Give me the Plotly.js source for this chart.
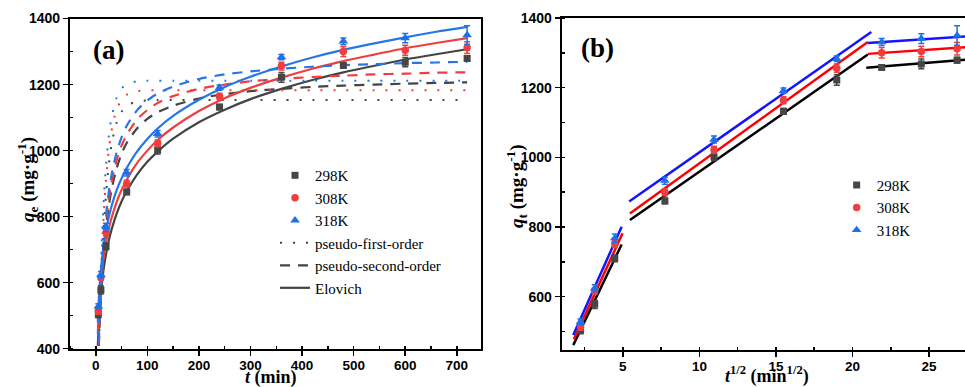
<!DOCTYPE html>
<html>
<head>
<meta charset="utf-8">
<script src="https://cdn.plot.ly/plotly-3.0.1.min.js"></script>
<style>html,body{margin:0;padding:0;background:#fff;}#chart{width:965px;height:387px;}</style>
</head>
<body>
<div id="chart"></div>
<script>
// ---- experimental data ----
const tMin = [5, 10, 20, 60, 120, 240, 360, 480, 600, 720];
const sqrtT = [2.236, 3.162, 4.472, 7.746, 10.954, 15.492, 18.974, 21.909, 24.495, 26.833];
const q298 = [504, 578, 710, 875, 1002, 1132, 1222, 1258, 1268, 1279];
const q308 = [514, 616, 752, 900, 1022, 1164, 1256, 1300, 1304, 1312];
const q318 = [528, 624, 768, 933, 1051, 1191, 1283, 1331, 1341, 1350];
const err298 = [10, 12, 10, 8, 12, 8, 15, 6, 14, 8];
const err308 = [10, 8, 10, 10, 10, 10, 12, 15, 15, 18];
const err318 = [8, 10, 12, 10, 10, 8, 8, 10, 14, 28];
const seriesNames = ['298K', '308K', '318K'];
const modelNames = ['pseudo-first-order', 'pseudo-second-order', 'Elovich'];

// ---- fitted curves ----
const tFit = [3, 4, 5, 6, 8, 10, 13, 16, 20, 25, 30, 40, 50, 60, 80, 100, 120, 150, 200, 250, 300, 360, 420, 480, 540, 600, 660, 720];
const pfo298 = [218, 282, 341, 396, 494, 580, 689, 777, 869, 953, 1012, 1083, 1118, 1136, 1149, 1152, 1153, 1153, 1153, 1153, 1153, 1153, 1153, 1153, 1153, 1153, 1153, 1153];
const pfo308 = [236, 303, 366, 424, 529, 619, 731, 821, 914, 997, 1055, 1122, 1154, 1169, 1180, 1182, 1183, 1183, 1183, 1183, 1183, 1183, 1183, 1183, 1183, 1183, 1183, 1183];
const pfo318 = [253, 325, 391, 453, 563, 656, 772, 864, 957, 1040, 1095, 1158, 1188, 1201, 1210, 1212, 1212, 1212, 1212, 1212, 1212, 1212, 1212, 1212, 1212, 1212, 1212, 1212];
const pso298 = [245, 307, 361, 409, 491, 558, 638, 701, 767, 829, 876, 944, 990, 1023, 1067, 1096, 1116, 1136, 1158, 1171, 1180, 1187, 1193, 1197, 1200, 1203, 1205, 1207];
const pso308 = [252, 315, 370, 419, 503, 572, 654, 719, 786, 850, 899, 968, 1015, 1048, 1094, 1123, 1144, 1165, 1187, 1200, 1210, 1217, 1223, 1227, 1231, 1233, 1236, 1237];
const pso318 = [258, 323, 379, 430, 516, 586, 671, 737, 806, 872, 921, 992, 1040, 1075, 1122, 1152, 1173, 1194, 1217, 1231, 1240, 1248, 1254, 1259, 1262, 1265, 1267, 1269];
const elo298 = [null, 409, 447, 479, 529, 567, 613, 649, 687, 726, 757, 807, 846, 877, 927, 966, 997, 1036, 1086, 1124, 1156, 1187, 1214, 1237, 1257, 1276, 1292, 1307];
const elo308 = [null, 445, 484, 515, 565, 603, 648, 684, 723, 761, 793, 842, 881, 912, 962, 1000, 1032, 1070, 1120, 1159, 1190, 1221, 1248, 1271, 1291, 1310, 1326, 1341];
const elo318 = [null, 481, 520, 551, 601, 639, 684, 720, 758, 797, 828, 878, 916, 947, 997, 1035, 1067, 1105, 1154, 1193, 1224, 1255, 1282, 1305, 1325, 1343, 1360, 1375];

// ---- intraparticle diffusion segments (panel b) ----
const idX298 = [1.76, 4.92, null, 5.46, 21.0, null, 20.9, 27.35];
const idY298 = [461, 750, null, 820, 1295, null, 1257, 1280];
const idX308 = [1.80, 4.98, null, 5.46, 21.0, null, 21.0, 27.35];
const idY308 = [478, 782, null, 839, 1331, null, 1297, 1316];
const idX318 = [1.76, 4.92, null, 5.41, 21.23, null, 21.0, 27.35];
const idY318 = [490, 801, null, 873, 1360, null, 1328, 1347];

// ---- styling ----
const markerCol = ['rgb(70,70,70)', 'rgb(240,62,62)', 'rgb(30,112,232)'];
const curveCol = ['rgb(68,68,68)', 'rgb(240,62,62)', 'rgb(38,118,232)'];
const idCol = ['rgb(0,0,0)', 'rgb(255,0,0)', 'rgb(20,20,255)'];
const symbols = ['square', 'circle', 'triangle-up'];
const msize = [7, 7.5, 8.5];

const qs = [q298, q308, q318];
const errs = [err298, err308, err318];
const pfo = [pfo298, pfo308, pfo318];
const pso = [pso298, pso308, pso318];
const elo = [elo298, elo308, elo318];
const idX = [idX298, idX308, idX318];
const idY = [idY298, idY308, idY318];

const traces = [];
// fitted curves panel a
for (let i = 0; i < 3; i++) {
  traces.push({x: tFit, y: pfo[i], mode: 'lines', xaxis: 'x', yaxis: 'y',
    line: {color: curveCol[i], width: 2, dash: '2px,11px', shape: 'spline', smoothing: 0.8},
    name: modelNames[0], showlegend: i === 0, legend: 'legend', legendrank: 4, hoverinfo: 'skip'});
  traces.push({x: tFit, y: pso[i], mode: 'lines', xaxis: 'x', yaxis: 'y',
    line: {color: curveCol[i], width: 2.2, dash: '10px,8px', shape: 'spline', smoothing: 0.8},
    name: modelNames[1], showlegend: i === 0, legend: 'legend', legendrank: 5, hoverinfo: 'skip'});
  traces.push({x: tFit, y: elo[i], mode: 'lines', xaxis: 'x', yaxis: 'y',
    line: {color: curveCol[i], width: 2.2, shape: 'spline', smoothing: 0.8},
    name: modelNames[2], showlegend: i === 0, legend: 'legend', legendrank: 6, hoverinfo: 'skip'});
}
// diffusion lines panel b
for (let i = 0; i < 3; i++) {
  traces.push({x: idX[i], y: idY[i], mode: 'lines', xaxis: 'x2', yaxis: 'y2',
    line: {color: idCol[i], width: 2.5}, connectgaps: false, showlegend: false, hoverinfo: 'skip'});
}
// markers
for (let i = 0; i < 3; i++) {
  traces.push({x: tMin, y: qs[i], mode: 'markers', xaxis: 'x', yaxis: 'y',
    marker: {symbol: symbols[i], size: msize[i], color: markerCol[i]},
    error_y: {type: 'data', array: errs[i], color: markerCol[i], thickness: 1.5, width: 3},
    name: seriesNames[i], legend: 'legend', legendrank: i + 1});
  traces.push({x: sqrtT, y: qs[i], mode: 'markers', xaxis: 'x2', yaxis: 'y2',
    marker: {symbol: symbols[i], size: msize[i], color: markerCol[i]},
    error_y: {type: 'data', array: errs[i], color: markerCol[i], thickness: 1.5, width: 3},
    name: seriesNames[i], legend: 'legend2', legendrank: i + 1});
}

const tickFont = {family: 'Liberation Sans, Arial, sans-serif', size: 14, color: '#000', weight: 'bold'};
const axBase = {showline: true, linecolor: '#000', linewidth: 2, ticks: 'outside', ticklen: 5, tickwidth: 1.5,
  tickcolor: '#000', tickfont: tickFont, showgrid: false, zeroline: false, fixedrange: true};
const xTickFont = Object.assign({}, tickFont, {size: 13.5});

const legendBase = {font: {family: 'Liberation Serif, Times New Roman, serif', size: 15, color: '#000'},
  bgcolor: 'rgba(0,0,0,0)', borderwidth: 0, xanchor: 'left', yanchor: 'top', tracegroupgap: 0, itemwidth: 30};

const serif = 'Liberation Serif, Times New Roman, serif';
const layout = {
  width: 965, height: 387,
  margin: {l: 0, r: 0, t: 0, b: 0},
  paper_bgcolor: '#fff', plot_bgcolor: '#fff',
  showlegend: true,
  xaxis: Object.assign({}, axBase, {domain: [0.0725, 0.4985], range: [-50, 747], dtick: 100, tick0: 0,
    tickfont: xTickFont, ticklabelstandoff: -2,
    mirror: true, anchor: 'y', minor: {dtick: 50, ticks: 'inside', ticklen: 3, tickcolor: '#000'}}),
  yaxis: Object.assign({}, axBase, {domain: [0.099, 0.952], range: [400, 1400], dtick: 200, tick0: 0,
    mirror: true, anchor: 'x', minor: {dtick: 100, ticks: 'inside', ticklen: 3, tickcolor: '#000'}}),
  xaxis2: Object.assign({}, axBase, {domain: [0.582, 1.0], range: [1, 27.35], dtick: 5, tick0: 0,
    tickfont: xTickFont, ticklabelstandoff: -2,
    mirror: true, anchor: 'y2', minor: {dtick: 2.5, ticks: 'inside', ticklen: 3, tickcolor: '#000'}}),
  yaxis2: Object.assign({}, axBase, {domain: [0.0956, 0.9535], range: [447, 1400], dtick: 200, tick0: 0,
    mirror: false, anchor: 'x2', minor: {dtick: 100, ticks: 'inside', ticklen: 3, tickcolor: '#000'}}),
  legend: Object.assign({}, legendBase, {x: 0.285, y: 0.589}),
  legend2: Object.assign({}, legendBase, {x: 0.867, y: 0.564}),
  annotations: [
    {text: '<b>(a)</b>', x: 108, y: 50, showarrow: false,
     font: {family: serif, size: 27, color: '#000'}},
    {text: '<b>(b)</b>', x: 597, y: 48, showarrow: false,
     font: {family: serif, size: 27, color: '#000'}},
    {text: '<b><i>t</i> (min)</b>', x: 271, y: 377, showarrow: false,
     font: {family: serif, size: 18, color: '#000'}},
    {text: '<b><i>t</i><sup>1/2</sup> (min<sup>1/2</sup>)</b>', x: 767, y: 375, showarrow: false,
     font: {family: serif, size: 18, color: '#000'}},
    {text: '<b><i>q</i><sub>e</sub> (mg·g<sup>-1</sup>)</b>', x: 28, y: 180, textangle: -90, showarrow: false,
     font: {family: serif, size: 19, color: '#000'}},
    {text: '<b><i>q</i><sub>t</sub> (mg·g<sup>-1</sup>)</b>', x: 516, y: 186, textangle: -90, showarrow: false,
     font: {family: serif, size: 19, color: '#000'}}
  ]
};
// convert annotation pixel positions to paper fractions
layout.annotations.forEach(a => {
  a.xref = 'paper'; a.yref = 'paper';
  a.x = a.x / 965; a.y = 1 - a.y / 387;
  a.xanchor = 'center'; a.yanchor = 'middle';
});

Plotly.newPlot('chart', traces, layout, {displayModeBar: false, staticPlot: true});
</script>
</body>
</html>
